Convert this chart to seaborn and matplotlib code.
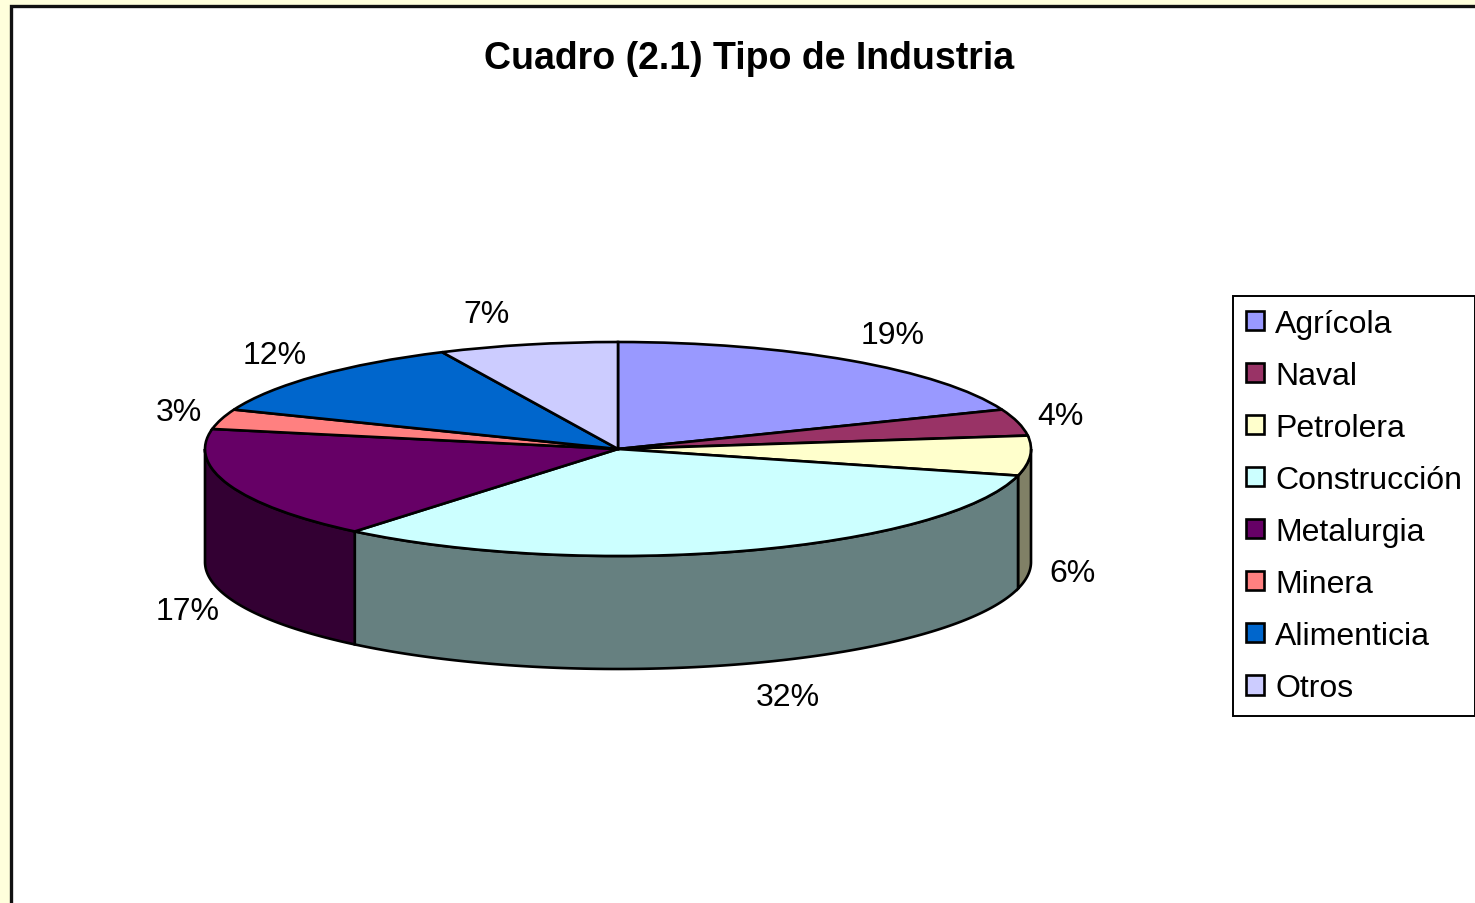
import numpy as np
import matplotlib
matplotlib.use("Agg")
import matplotlib.pyplot as plt
from matplotlib.patches import Polygon, Rectangle
import seaborn as sns

categories = ["Agrícola", "Naval", "Petrolera", "Construcción",
              "Metalurgia", "Minera", "Alimenticia", "Otros"]
values = [19, 4, 6, 32, 17, 3, 12, 7]
colors = ["#9999FF", "#993366", "#FFFFCC", "#CCFFFF",
          "#660066", "#FF8080", "#0066CC", "#CCCCFF"]
title = "Cuadro (2.1) Tipo de Industria"

sns.set_theme(style="white")
plt.rcParams["font.family"] = ["Liberation Sans", "DejaVu Sans"]
plt.rcParams["text.color"] = "black"

W, H = 1475, 904
fig = plt.figure(figsize=(W / 100, H / 100), dpi=100, facecolor="#FFFFDC")

# white chart area with dark frame (extends past right/bottom edges)
fig.patches.append(Rectangle((10.5 / W, -0.05), 1.2, 1 - 6.5 / H + 0.05,
                             transform=fig.transFigure, facecolor="white",
                             edgecolor="#111111", linewidth=2.4, zorder=-5))

# pie geometry in pixels
cx, cy, A, B, D = 618, 450, 413, 107, 113
ax = fig.add_axes([0, 0, 1, 1])
ax.set_facecolor("none")
ax.set_zorder(2)

total = float(sum(values))
lw = 1.9
wedges, _ = ax.pie(values, colors=colors, startangle=90, counterclock=False,
                   radius=1, center=(0, 0),
                   wedgeprops=dict(edgecolor="black", linewidth=lw, zorder=3))
ax.set_aspect("auto")
ax.set_xlim(-cx / A, (W - cx) / A)
ax.set_ylim(-(H - cy) / B, cy / B)
ax.axis("off")

depth = D / B
fracs = np.array(values) / total
cum = np.concatenate([[0], np.cumsum(fracs)])
starts = 90 - 360 * cum[:-1]
ends = 90 - 360 * cum[1:]


def darker(hexc, f=0.5):
    return np.array(matplotlib.colors.to_rgb(hexc)) * f


# side walls (visible front half: angles in [-180, 0])
for i in range(len(values)):
    hi, lo = starts[i], ends[i]
    for shift in (0, -360, 360):
        h = min(hi + shift, 0)
        l = max(lo + shift, -180)
        if h > l:
            t = np.radians(np.linspace(l, h, 120))
            top = np.column_stack([np.cos(t), np.sin(t)])
            bot = np.column_stack([np.cos(t[::-1]), np.sin(t[::-1]) - depth])
            ax.add_patch(Polygon(np.vstack([top, bot]), closed=True,
                                 facecolor=darker(colors[i]),
                                 edgecolor="black", linewidth=lw, zorder=2))

# percentage labels
mids = np.radians((starts + ends) / 2)
for i, m in enumerate(mids):
    c, s = np.cos(m), np.sin(m)
    ox = 42 * np.clip(c / 0.22, -1, 1)
    oy = 33 * s - 2
    x = c + ox / A
    y = s + oy / B - (depth if s < 0 else 0)
    ax.text(x, y, f"{values[i]:.0f}%", ha="center", va="center",
            fontsize=23, color="black", zorder=5)

fig.text(749 / W, 1 - 59 / H, title, ha="center", va="center",
         fontsize=27, fontweight="bold", color="black")

leg = ax.legend(wedges, categories, loc="upper left",
                bbox_to_anchor=(1233 / W, 1 - 297 / H),
                bbox_transform=fig.transFigure, fontsize=23,
                frameon=True, fancybox=False, edgecolor="black",
                framealpha=1, borderpad=0.40, labelspacing=0.69,
                handlelength=0.56, handleheight=0.56, handletextpad=0.36,
                borderaxespad=0)
leg.get_frame().set_linewidth(1.4)
for t in leg.get_texts():
    t.set_color("black")

fig.savefig("out.png", dpi=100, facecolor=fig.get_facecolor())
